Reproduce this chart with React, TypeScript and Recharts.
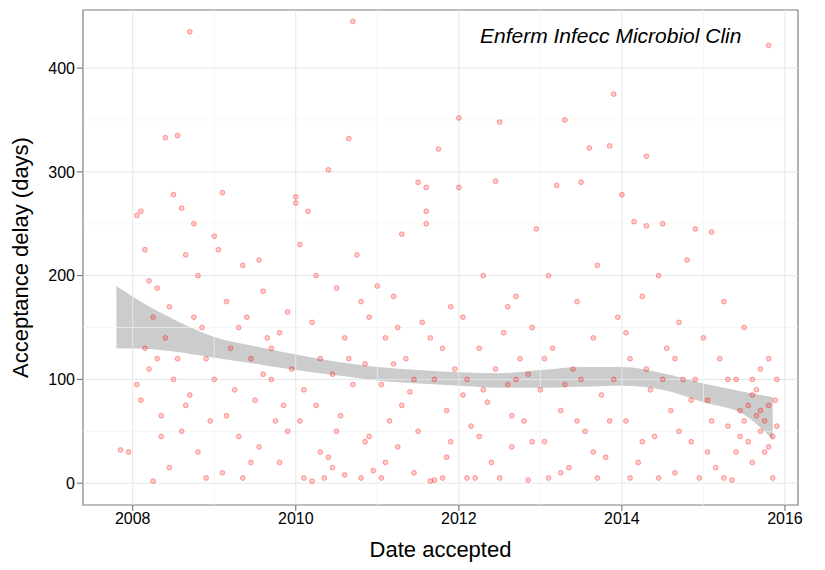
import { ComposedChart, Scatter, Area, XAxis, YAxis, ReferenceLine, ReferenceArea } from "recharts";

// [decimal year, days]
const points: number[][] = [
  [2007.85, 32], [2007.95, 30], [2008.05, 258], [2008.1, 262], [2008.05, 95], [2008.15, 225], [2008.2, 195], [2008.25, 160], [2008.3, 120], [2008.35, 65],
  [2008.1, 80], [2008.25, 2], [2008.4, 333], [2008.45, 15], [2008.5, 278], [2008.55, 335], [2008.6, 265], [2008.65, 220], [2008.7, 435], [2008.75, 250],
  [2008.3, 188], [2008.4, 140], [2008.5, 100], [2008.6, 50], [2008.7, 85], [2008.8, 200], [2008.85, 150], [2008.9, 120], [2008.95, 60], [2008.8, 30],
  [2009.0, 238], [2009.05, 225], [2009.1, 280], [2009.15, 175], [2009.2, 130], [2009.25, 90], [2009.3, 45], [2009.1, 10], [2009.35, 210], [2009.4, 160],
  [2009.45, 120], [2009.5, 80], [2009.55, 215], [2009.6, 185], [2009.65, 140], [2009.7, 100], [2009.75, 60], [2009.8, 20], [2009.55, 35], [2009.9, 165],
  [2009.95, 110], [2010.0, 276], [2010.0, 270], [2010.05, 230], [2010.1, 90], [2010.15, 262], [2010.2, 155], [2010.25, 200], [2010.3, 30], [2010.35, 5],
  [2010.4, 302], [2010.45, 105], [2010.5, 188], [2010.55, 65], [2010.6, 140], [2010.65, 332], [2010.7, 445], [2010.75, 220], [2010.8, 175], [2010.85, 115],
  [2010.1, 5], [2010.2, 2], [2010.4, 25], [2010.6, 8], [2010.9, 45], [2010.95, 12], [2011.0, 190], [2011.05, 95], [2011.1, 140], [2011.15, 60],
  [2011.2, 180], [2011.25, 35], [2011.3, 240], [2011.35, 120], [2011.4, 88], [2011.45, 10], [2011.5, 290], [2011.55, 155], [2011.6, 285], [2011.6, 262],
  [2011.6, 250], [2011.65, 2], [2011.7, 3], [2011.75, 322], [2011.8, 130], [2011.85, 70], [2011.9, 40], [2011.95, 110], [2012.0, 352], [2012.0, 285],
  [2012.05, 160], [2012.1, 100], [2012.15, 55], [2012.2, 5], [2012.25, 130], [2012.3, 200], [2012.35, 78], [2012.4, 20], [2012.45, 291], [2012.5, 348],
  [2012.55, 145], [2012.6, 95], [2012.65, 35], [2012.7, 180], [2012.75, 120], [2012.8, 60], [2012.85, 3], [2012.9, 150], [2012.95, 245], [2013.0, 90],
  [2013.05, 40], [2013.1, 200], [2013.15, 130], [2013.2, 287], [2013.25, 70], [2013.3, 350], [2013.35, 15], [2013.4, 110], [2013.45, 175], [2013.5, 290],
  [2013.55, 50], [2013.6, 323], [2013.65, 140], [2013.7, 210], [2013.75, 85], [2013.8, 25], [2013.85, 325], [2013.9, 375], [2013.95, 160], [2014.0, 278],
  [2014.05, 60], [2014.1, 120], [2014.15, 252], [2014.2, 20], [2014.25, 180], [2014.3, 315], [2014.3, 248], [2014.35, 90], [2014.4, 45], [2014.45, 200],
  [2014.5, 250], [2014.55, 130], [2014.6, 70], [2014.65, 10], [2014.7, 155], [2014.75, 100], [2014.8, 215], [2014.85, 40], [2014.9, 245], [2014.95, 5],
  [2015.0, 140], [2015.05, 80], [2015.1, 242], [2015.15, 15], [2015.2, 120], [2015.25, 175], [2015.3, 55], [2015.35, 3], [2015.4, 100], [2015.45, 70],
  [2015.5, 150], [2015.5, 60], [2015.55, 40], [2015.6, 85], [2015.6, 20], [2015.65, 65], [2015.7, 110], [2015.7, 50], [2015.75, 30], [2015.8, 422],
  [2015.8, 120], [2015.8, 75], [2015.85, 45], [2015.85, 5], [2015.9, 55], [2015.9, 100], [2008.2, 110], [2008.45, 170], [2008.65, 75], [2008.9, 5],
  [2009.3, 150], [2009.45, 20], [2009.7, 130], [2009.85, 75], [2010.3, 120], [2010.5, 50], [2010.7, 95], [2010.9, 160], [2011.1, 20], [2011.3, 75],
  [2011.5, 50], [2011.7, 100], [2011.9, 170], [2012.1, 5], [2012.3, 90], [2012.5, 5], [2012.7, 100], [2012.9, 40], [2013.1, 5], [2013.3, 95],
  [2013.5, 100], [2013.7, 5], [2013.9, 100], [2014.1, 5], [2014.3, 110], [2014.5, 100], [2014.7, 50], [2014.9, 100], [2015.1, 60], [2015.3, 100],
  [2015.4, 30], [2015.55, 75], [2015.65, 90], [2015.75, 60], [2009.0, 100], [2009.9, 50], [2010.8, 5], [2011.2, 115], [2011.8, 5], [2012.6, 170],
  [2008.15, 130], [2008.35, 45], [2008.55, 120], [2008.75, 160], [2009.15, 65], [2009.35, 5], [2009.6, 105], [2009.8, 145], [2010.05, 60], [2010.25, 75],
  [2010.45, 15], [2010.65, 120], [2010.85, 40], [2011.05, 5], [2011.25, 150], [2011.45, 100], [2011.65, 140], [2011.85, 25], [2012.05, 85], [2012.25, 45],
  [2012.45, 110], [2012.65, 65], [2012.85, 105], [2013.05, 120], [2013.25, 10], [2013.45, 60], [2013.65, 30], [2013.85, 60], [2014.05, 145], [2014.25, 40],
  [2014.45, 5], [2014.65, 120], [2014.85, 80], [2015.05, 30], [2015.25, 5], [2015.45, 45], [2015.6, 100], [2015.7, 70], [2015.8, 35], [2015.88, 80],
];
const pointData = points.map(([date, delay]) => ({ date, delay }));

const bandDates = [2007.8, 2008.25, 2008.5, 2009, 2009.5, 2010, 2010.5, 2011, 2011.5, 2012, 2012.5, 2013, 2013.5, 2014, 2014.5, 2015, 2015.5, 2015.85];
const bandLow = [130, 129, 127, 121, 115, 109, 104, 99, 96, 94, 92, 92, 93, 94, 90, 78, 66, 42];
const bandHigh = [190, 168, 158, 141, 132, 124, 117, 112, 109, 107, 106, 109, 112, 112, 106, 96, 88, 83];
const bandData = bandDates.map((date, i) => ({ date, band: [bandLow[i], bandHigh[i]] }));

const xTicks = [2008, 2010, 2012, 2014, 2016];
const yTicks = [0, 100, 200, 300, 400];
const xMinor = [2009, 2011, 2013, 2015];
const yMinor = [50, 150, 250, 350];

export default function App() {
  const font = "Liberation Sans, Arial, sans-serif";
  return (
    <div style={{ width: 825, height: 570, fontFamily: font }}>
      <ComposedChart width={817} height={562} margin={{ top: 2, right: 27, bottom: 35, left: 20 }}>
        <XAxis type="number" dataKey="date" domain={[2007.39, 2016.16]} ticks={xTicks} allowDataOverflow height={30}
          tick={{ fontSize: 16, fill: "#000", fontFamily: font }} tickLine={{ stroke: "#666" }} axisLine={false}
          label={{ value: "Date accepted", position: "bottom", offset: 6, fontSize: 22, fill: "#000" }} />
        <YAxis type="number" dataKey="delay" domain={[-21, 456]} ticks={yTicks} allowDataOverflow width={55}
          tick={{ fontSize: 16, fill: "#000", fontFamily: font }} tickLine={{ stroke: "#666" }} axisLine={false}
          label={{ value: "Acceptance delay (days)", angle: -90, position: "insideLeft", offset: -8, fontSize: 22, fill: "#000", style: { textAnchor: "middle" } }} />
        {xMinor.map(v => <ReferenceLine key={"xm" + v} x={v} stroke="#f2f2f2" strokeWidth={0.7} />)}
        {yMinor.map(v => <ReferenceLine key={"ym" + v} y={v} stroke="#f2f2f2" strokeWidth={0.7} />)}
        {xTicks.map(v => <ReferenceLine key={"x" + v} x={v} stroke="#e6e6e6" strokeWidth={1} />)}
        {yTicks.map(v => <ReferenceLine key={"y" + v} y={v} stroke="#e6e6e6" strokeWidth={1} />)}
        <Area data={bandData} dataKey="band" type="monotone" fill="#999" fillOpacity={0.5} stroke="none" isAnimationActive={false} />
        <Scatter data={pointData} dataKey="delay" fill="#ff0000" isAnimationActive={false}
          shape={(p: any) => <circle cx={p.cx} cy={p.cy} r={2.4} fill="#ff0000" fillOpacity={0.2} stroke="#ff0000" strokeOpacity={0.35} />} />
        <ReferenceArea x1={2007.39} x2={2016.16} y1={-21} y2={456} fill="none" stroke="#7f7f7f" strokeWidth={1.2} ifOverflow="extendDomain" />
      </ComposedChart>
      <div style={{ position: "absolute", left: 480, top: 24, fontSize: 21, fontStyle: "italic" }}>Enferm Infecc Microbiol Clin</div>
    </div>
  );
}
